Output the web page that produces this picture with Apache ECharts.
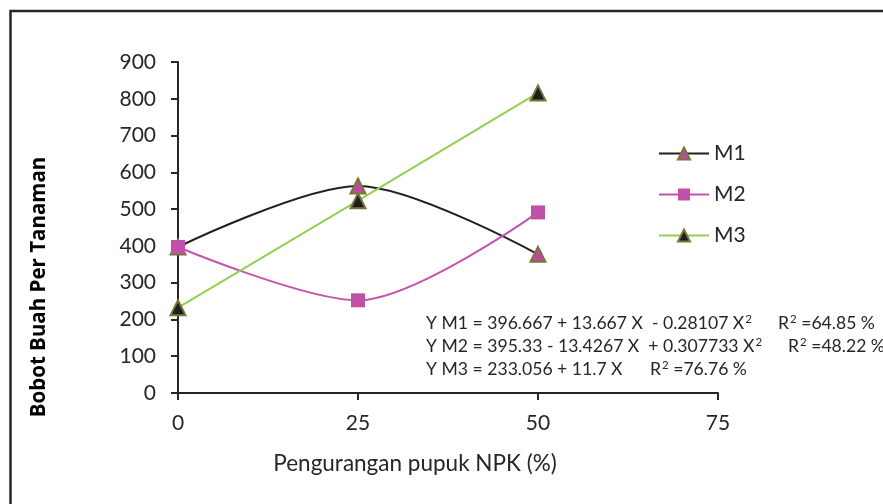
<!DOCTYPE html>
<html>
<head>
<meta charset="utf-8">
<script src="https://cdn.jsdelivr.net/npm/echarts@6/dist/echarts.min.js"></script>
<style>
  html, body { margin: 0; padding: 0; background: #fff; }
  #chart { width: 883px; height: 504px; }
</style>
</head>
<body>
<div id="chart"></div>
<script>
// pengurangan pupuk NPK (%)
const xValues = [0, 25, 50];
const m1 = [397, 563, 377];
const m2 = [397, 252, 491];
const m3 = [232, 523, 816];
const seriesNames = ["M1", "M2", "M3"];
const yTicks = { min: 0, max: 900, interval: 100 };
const xTicks = { min: 0, max: 75, interval: 25 };
const equations = [
  "Y M1 = 396.667 + 13.667 X  - 0.28107 X{sup|2}",
  "Y M2 = 395.33 - 13.4267 X  + 0.307733 X{sup|2}",
  "Y M3 = 233.056 + 11.7 X"
];
const rSquared = ["R{sup|2} =64.85 %", "R{sup|2} =48.22 %", "R{sup|2} =76.76 %"];

function pairs(ys) {
  return xValues.map((x, i) => [x, ys[i]]);
}

const font = "Lato, 'Open Sans', sans-serif";
const axisColor = "#262626";
const olive = "#77773a";

let chart = echarts.init(document.getElementById("chart"));

let option = {
  animation: false,
  textStyle: { fontFamily: font },
  grid: { left: 178, top: 62, right: 165, bottom: 111 },
  legend: {
    orient: "vertical",
    left: 658,
    top: 143,
    padding: 0,
    itemWidth: 50,
    itemHeight: 15,
    itemGap: 20,
    textStyle: { fontSize: 21, color: "#262626", fontFamily: font },
    data: seriesNames,
  },
  xAxis: {
    type: "value",
    min: xTicks.min,
    max: xTicks.max,
    interval: xTicks.interval,
    axisLine: { lineStyle: { color: axisColor, width: 2 } },
    axisTick: { show: true, length: 7, lineStyle: { color: axisColor, width: 2 } },
    axisLabel: { fontSize: 21, color: "#262626", margin: 20 },
    splitLine: { show: false },
  },
  yAxis: {
    type: "value",
    min: yTicks.min,
    max: yTicks.max,
    interval: yTicks.interval,
    axisLine: { show: true, lineStyle: { color: axisColor, width: 2 } },
    axisTick: { show: true, length: 7, lineStyle: { color: axisColor, width: 2 } },
    axisLabel: { fontSize: 21, color: "#262626", margin: 22 },
    splitLine: { show: false },
  },
  series: [
    {
      name: "M1",
      type: "line",
      smooth: 0.3,
      symbol: "triangle",
      symbolSize: 15,
      lineStyle: { color: "#231f20", width: 2 },
      itemStyle: { color: "#be4b9f", borderColor: olive, borderWidth: 2 },
      z: 2,
      data: pairs(m1),
    },
    {
      name: "M2",
      type: "line",
      smooth: 0.3,
      symbol: "rect",
      symbolSize: 14,
      lineStyle: { color: "#c455ac", width: 2 },
      itemStyle: { color: "#c050a8" },
      z: 3,
      data: pairs(m2),
    },
    {
      name: "M3",
      type: "line",
      symbol: "triangle",
      symbolSize: 15,
      lineStyle: { color: "#92d050", width: 2 },
      itemStyle: { color: "#1e1e1e", borderColor: olive, borderWidth: 2 },
      z: 4,
      data: pairs(m3),
    },
  ],
  graphic: [
    {
      type: "rect",
      shape: { x: 10.5, y: 11, width: 1000, height: 1000 },
      style: { fill: "none", stroke: "#262626", lineWidth: 2.5 },
      silent: true,
    },
    {
      type: "text",
      x: 39,
      y: 287,
      rotation: Math.PI / 2,
      style: {
        text: "Bobot Buah Per Tanaman",
        font: "bold 20.5px 'Open Sans', sans-serif",
        fill: "#000",
        textAlign: "center",
        textVerticalAlign: "middle",
      },
    },
    {
      type: "text",
      x: 415,
      y: 464,
      style: {
        text: "Pengurangan pupuk NPK (%)",
        font: "22.5px " + font,
        fill: "#262626",
        textAlign: "center",
        textVerticalAlign: "middle",
      },
    },
  ],
};

// regression equations, left column + R² column
const eqY = [323, 346, 369];
const rX = [778, 788, 650];
const eqRich = {
  sup: { fontSize: 11.5, fontFamily: font, verticalAlign: "top", lineHeight: 12, padding: [0, 0, 6, 1] },
};
function eqText(t, x, y) {
  return {
    type: "text",
    x: x,
    y: y,
    style: {
      text: t,
      fontSize: 17.6,
      fontFamily: font,
      fill: "#262626",
      lineHeight: 20,
      textVerticalAlign: "middle",
      rich: eqRich,
    },
  };
}
equations.forEach((t, i) => {
  option.graphic.push(eqText(t, 426, eqY[i]));
  option.graphic.push(eqText(rSquared[i], rX[i], eqY[i]));
});

chart.setOption(option);
</script>
</body>
</html>
